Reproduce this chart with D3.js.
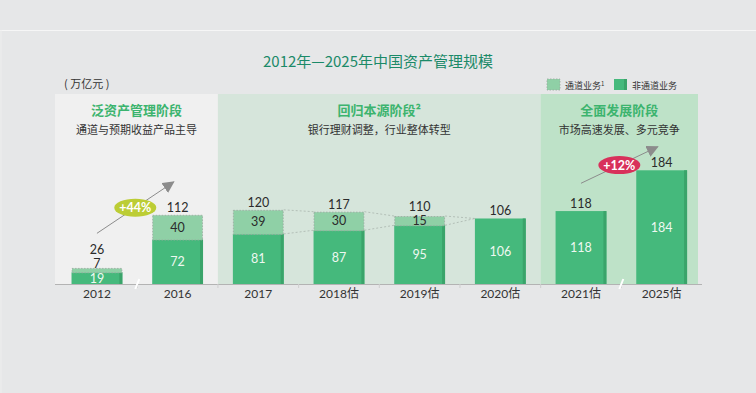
<!DOCTYPE html>
<html>
<head>
<meta charset="utf-8">
<script src="https://cdn.jsdelivr.net/npm/d3@7"></script>
<style>
  body { margin: 0; background: #e6e7e8; }
  svg { display: block; font-family: Lato, "Noto Sans CJK SC", sans-serif; }
</style>
</head>
<body>
<script>
// chart data
var categories = ["2012", "2016", "2017", "2018估", "2019估", "2020估", "2021估", "2025估"];
var nonChannel = [19, 72, 81, 87, 95, 106, 118, 184];
var channel = [7, 40, 39, 30, 15, 0, 0, 0];
var totals = [26, 112, 120, 117, 110, 106, 118, 184];
var phaseNames = ["泛资产管理阶段", "回归本源阶段²", "全面发展阶段"];
var phaseNotes = ["通道与预期收益产品主导", "银行理财调整，行业整体转型", "市场高速发展、多元竞争"];
var phaseSpans = [[0, 1], [2, 5], [6, 7]];
var growthLabels = ["+44%", "+12%"];
var growthSpans = [[0, 1], [6, 7]];
var growthLevels = [[82, 165], [163, 222]];
var legendLabels = ["通道业务", "非通道业务"];

var W = 756, H = 393;
var svg, x, y;
var baseY = 284;

main();

function main() {
  appendSvg();
  setupScales();
  addFrame();
  addTitle();
  addPanels();
  addLegend();
  addBars();
  addConnectors();
  addAxis();
  addValueLabels();
  addGrowth();
}

function appendSvg() {
  svg = d3.select("body").append("svg")
    .attr("width", W)
    .attr("height", H);
}

function setupScales() {
  x = d3.scaleBand()
    .domain(categories)
    .range([56.6, 702])
    .paddingInner(0.37)
    .paddingOuter(0.185);
  y = d3.scaleLinear()
    .domain([0, 200])
    .range([baseY, baseY - 123.6]);
}

function addFrame() {
  svg.append("rect").attr("width", W).attr("height", H).attr("fill", "#e6e7e8");
  svg.append("line").attr("x1", 0).attr("x2", W).attr("y1", 30.5).attr("y2", 30.5)
    .attr("stroke", "#f6f6f6").attr("stroke-width", 1.2);
  svg.append("line").attr("x1", 1).attr("x2", 1).attr("y1", 30).attr("y2", H)
    .attr("stroke", "#eeeeee").attr("stroke-width", 1);
}

function addTitle() {
  svg.append("text")
    .attr("x", W / 2)
    .attr("y", 67)
    .attr("text-anchor", "middle")
    .style("font-family", "'Noto Sans CJK SC', sans-serif")
    .style("font-size", "15px")
    .attr("fill", "#1b8a68")
    .text("2012年—2025年中国资产管理规模");
  svg.append("text")
    .attr("x", 64)
    .attr("y", 88)
    .style("font-family", "'Noto Sans CJK SC', sans-serif")
    .style("font-size", "11px")
    .attr("fill", "#333")
    .attr("xml:space", "preserve")
    .text("( 万亿元 )");
}

function addPanels() {
  var fills = ["#f0f0f0", "#d6e5db", "#bee2c8"];
  var step = x.step();
  phaseSpans.forEach(function (s, i) {
    var x0 = i == 0 ? 55 : x(categories[s[0]]) - step * x.paddingInner() / 2;
    var x1 = i == 2 ? 698 : x(categories[s[1]]) + x.bandwidth() + step * x.paddingInner() / 2;
    svg.append("rect")
      .attr("x", x0).attr("y", 94)
      .attr("width", x1 - x0).attr("height", baseY - 94)
      .attr("fill", fills[i]);
    var cx = (x0 + x1) / 2;
    svg.append("text")
      .attr("x", cx).attr("y", 115)
      .attr("text-anchor", "middle")
      .style("font-family", "'Noto Sans CJK SC', sans-serif")
      .style("font-size", "13px")
      .style("font-weight", "bold")
      .attr("fill", "#3cb46e")
      .text(phaseNames[i]);
    svg.append("text")
      .attr("x", cx).attr("y", 134)
      .attr("text-anchor", "middle")
      .style("font-family", "'Noto Sans CJK SC', sans-serif")
      .style("font-size", "11px")
      .attr("fill", "#333")
      .text(phaseNotes[i]);
  });
}

function addLegend() {
  var g = svg.append("g").attr("transform", "translate(547,79)");
  g.append("rect").attr("width", 13).attr("height", 11)
    .attr("fill", "#8fd0a6").attr("stroke", "#9aa89f")
    .attr("stroke-dasharray", "1.5,1.5").attr("stroke-width", 0.8);
  var t = g.append("text").attr("x", 18).attr("y", 9.5)
    .style("font-family", "'Noto Sans CJK SC', sans-serif")
    .style("font-size", "9px").attr("fill", "#333");
  t.append("tspan").text(legendLabels[0]);
  t.append("tspan").attr("dy", -3).style("font-size", "6px").text("1");
  g.append("rect").attr("x", 67).attr("width", 13).attr("height", 11).attr("fill", "#45b97c");
  g.append("rect").attr("x", 77).attr("width", 3).attr("height", 11).attr("fill", "#3aa46a");
  g.append("text").attr("x", 85).attr("y", 9.5)
    .style("font-family", "'Noto Sans CJK SC', sans-serif")
    .style("font-size", "9px").attr("fill", "#333")
    .text(legendLabels[1]);
}

function addBars() {
  var bw = x.bandwidth();
  var g = svg.append("g");
  // non channel part
  g.selectAll(".nc").data(categories).enter().append("rect")
    .attr("x", function (d) { return x(d); })
    .attr("y", function (d, i) { return y(nonChannel[i]); })
    .attr("width", bw)
    .attr("height", function (d, i) { return baseY - y(nonChannel[i]); })
    .attr("fill", "#45b97c");
  g.selectAll(".ncEdge").data(categories).enter().append("rect")
    .attr("x", function (d) { return x(d) + bw - 3; })
    .attr("y", function (d, i) { return y(nonChannel[i]); })
    .attr("width", 3)
    .attr("height", function (d, i) { return baseY - y(nonChannel[i]); })
    .attr("fill", "#3aa46a");
  // channel part
  var ch = categories.filter(function (d, i) { return channel[i] > 0; });
  g.selectAll(".ch").data(ch).enter().append("rect")
    .attr("x", function (d) { return x(d) + 0.5; })
    .attr("y", function (d) { var i = categories.indexOf(d); return y(totals[i]) + 0.5; })
    .attr("width", bw - 1)
    .attr("height", function (d) { var i = categories.indexOf(d); return y(nonChannel[i]) - y(totals[i]); })
    .attr("fill", "#8fd0a6")
    .attr("stroke", "#9aa89f")
    .attr("stroke-width", 0.8)
    .attr("stroke-dasharray", "1.5,1.5");
}

function addConnectors() {
  var bw = x.bandwidth();
  var g = svg.append("g")
    .attr("fill", "none")
    .attr("stroke", "#a9b5ad")
    .attr("stroke-width", 0.8)
    .attr("stroke-dasharray", "2,2");
  for (var i = 2; i < 5; i++) {
    var xa = x(categories[i]) + bw, xb = x(categories[i + 1]);
    var botB = channel[i + 1] > 0 ? nonChannel[i + 1] : totals[i + 1];
    g.append("line").attr("x1", xa).attr("x2", xb)
      .attr("y1", y(totals[i])).attr("y2", y(totals[i + 1]));
    g.append("line").attr("x1", xa).attr("x2", xb)
      .attr("y1", y(nonChannel[i])).attr("y2", y(botB));
  }
}

function addAxis() {
  var ax = svg.append("g")
    .attr("transform", "translate(0," + baseY + ")")
    .call(d3.axisBottom(x).tickSize(0).tickPadding(5));
  ax.select(".domain").remove();
  ax.selectAll("text")
    .style("font-family", "Lato, 'Noto Sans CJK SC', sans-serif")
    .style("font-size", "12px")
    .attr("fill", "#333");
  svg.append("line").attr("x1", 55).attr("x2", 702)
    .attr("y1", baseY + 0.5).attr("y2", baseY + 0.5)
    .attr("stroke", "#b3b3b3").attr("stroke-width", 1.2);
  var step = x.step();
  svg.selectAll(".tk").data(categories.slice(1)).enter().append("line")
    .attr("x1", function (d) { return x(d) - step * x.paddingInner() / 2; })
    .attr("x2", function (d) { return x(d) - step * x.paddingInner() / 2; })
    .attr("y1", baseY).attr("y2", baseY + 4)
    .attr("stroke", "#cfcfcf");
  // axis breaks
  [1, 7].forEach(function (i) {
    var bx = x(categories[i]) - step * x.paddingInner() / 2;
    svg.append("line")
      .attr("x1", bx - 2).attr("x2", bx + 2)
      .attr("y1", baseY + 5).attr("y2", baseY - 5)
      .attr("stroke", "#ffffff").attr("stroke-width", 2);
  });
}

function addValueLabels() {
  var bw = x.bandwidth();
  var g = svg.append("g")
    .attr("text-anchor", "middle")
    .style("font-size", "12.5px");
  // label centres, pushed apart where segments are thin
  var ncMid = nonChannel.map(function (v) { return (baseY + y(v)) / 2; });
  var chMid = channel.map(function (v, i) {
    return v > 0 ? Math.min((y(totals[i]) + y(nonChannel[i])) / 2, ncMid[i] - 15) : null;
  });
  var totMid = totals.map(function (v, i) {
    var above = y(v) - 7.5;
    return chMid[i] !== null ? Math.min(above, chMid[i] - 14) : above;
  });
  g.selectAll(".tot").data(categories).enter().append("text")
    .attr("x", function (d) { return x(d) + bw / 2; })
    .attr("y", function (d, i) { return totMid[i] + 4.5; })
    .attr("fill", "#2b2b2b")
    .text(function (d, i) { return totals[i]; });
  var ch = categories.filter(function (d, i) { return channel[i] > 0; });
  g.selectAll(".chv").data(ch).enter().append("text")
    .attr("x", function (d) { return x(d) + bw / 2; })
    .attr("y", function (d) { return chMid[categories.indexOf(d)] + 4.5; })
    .attr("fill", "#2b2b2b")
    .text(function (d) { return channel[categories.indexOf(d)]; });
  g.selectAll(".ncv").data(categories).enter().append("text")
    .attr("x", function (d) { return x(d) + bw / 2; })
    .attr("y", function (d, i) { return ncMid[i] + 4.5; })
    .attr("fill", "#eef8f1")
    .text(function (d, i) { return nonChannel[i]; });
}

function addGrowth() {
  var bw = x.bandwidth();
  var fills = ["#bccd35", "#d8315b"];
  svg.append("defs").append("marker")
    .attr("id", "head")
    .attr("viewBox", "0 0 10 10")
    .attr("refX", 9).attr("refY", 5)
    .attr("markerWidth", 12).attr("markerHeight", 12)
    .attr("markerUnits", "userSpaceOnUse")
    .attr("orient", "auto")
    .append("path").attr("d", "M0,0L10,5L0,10Z").attr("fill", "#8c8c8c");
  growthSpans.forEach(function (s, i) {
    var x1 = x(categories[s[0]]) + bw / 2, x2 = x(categories[s[1]]) + bw / 2 - 4;
    var y1 = y(growthLevels[i][0]), y2 = y(growthLevels[i][1]);
    svg.append("line")
      .attr("x1", x1).attr("y1", y1).attr("x2", x2).attr("y2", y2)
      .attr("stroke", "#8c8c8c").attr("stroke-width", 1)
      .attr("marker-end", "url(#head)");
    var mx = (x1 + x2) / 2, my = (y1 + y2) / 2;
    svg.append("ellipse")
      .attr("cx", mx).attr("cy", my).attr("rx", 21).attr("ry", 9)
      .attr("fill", fills[i]);
    svg.append("text")
      .attr("x", mx).attr("y", my + 4.5)
      .attr("text-anchor", "middle")
      .style("font-size", "12.5px").style("font-weight", "bold")
      .attr("fill", "#ffffff")
      .text(growthLabels[i]);
  });
}
</script>
</body>
</html>
